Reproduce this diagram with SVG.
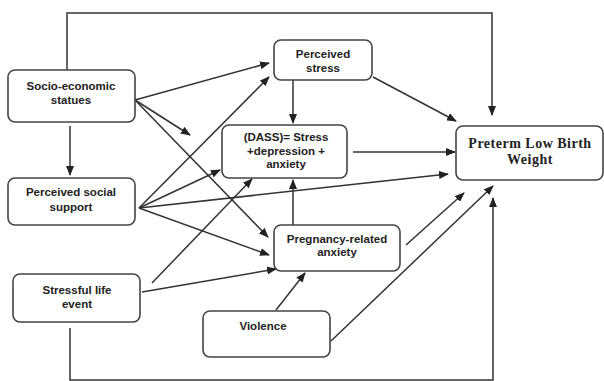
<svg xmlns="http://www.w3.org/2000/svg" width="604" height="381" viewBox="0 0 604 381">
<defs>
<marker id="ah" markerWidth="10" markerHeight="8" refX="9" refY="4" orient="auto" markerUnits="userSpaceOnUse">
<path d="M0,0 L10,4 L0,8 Z" fill="#222"/>
</marker>
<style>
.box{fill:#fff;stroke:#444;stroke-width:1.6}
.t{font-family:"Liberation Sans",Arial,sans-serif;font-size:11.5px;font-weight:bold;fill:#222;text-anchor:middle}
.ts{font-family:"Liberation Serif","Times New Roman",serif;font-size:14px;font-weight:bold;fill:#222;text-anchor:middle;letter-spacing:0.5px}
.c{fill:none;stroke:#333;stroke-width:1.5}
.a{marker-end:url(#ah)}
</style>
</defs>
<rect width="604" height="381" fill="#fff"/>
<g id="connectors">
<path class="c a" d="M67,70 V13 H492 V115"/>
<path class="c a" d="M135,100 L269,63"/>
<path class="c a" d="M135,100 L190,135"/>
<path class="c a" d="M135,100 L268,237"/>
<path class="c a" d="M70,126 V175"/>
<path class="c a" d="M139,208 L269,77"/>
<path class="c a" d="M139,208 L220,170"/>
<path class="c a" d="M139,208 L448,174"/>
<path class="c a" d="M139,208 L269,255"/>
<path class="c a" d="M152,283 L252,179"/>
<path class="c a" d="M142,292 L276,269"/>
<path class="c a" d="M276,310 L305,273"/>
<path class="c a" d="M331,341 L493,186"/>
<path class="c a" d="M406,245 L464,193"/>
<path class="c a" d="M293,226 V180"/>
<path class="c a" d="M293,80 V123"/>
<path class="c a" d="M353,152 H455"/>
<path class="c a" d="M373,77 L456,121"/>
<path class="c a" d="M70,328 V380 H493 V198"/>
</g>
<g id="socio">
<rect class="box" x="8" y="70" width="127" height="52" rx="7"/>
<text class="t" x="71" y="90">Socio-economic</text>
<text class="t" x="71" y="104">statues</text>
</g>
<g id="social-support">
<rect class="box" x="8" y="178" width="127" height="47" rx="7"/>
<text class="t" x="71" y="196">Perceived social</text>
<text class="t" x="71" y="211">support</text>
</g>
<g id="stressful-life">
<rect class="box" x="13" y="274" width="127" height="48" rx="7"/>
<text class="t" x="77" y="294">Stressful life</text>
<text class="t" x="77" y="308">event</text>
</g>
<g id="perceived-stress">
<rect class="box" x="274" y="40" width="98" height="40" rx="7"/>
<text class="t" x="323" y="58">Perceived</text>
<text class="t" x="323" y="72">stress</text>
</g>
<g id="dass">
<rect class="box" x="222" y="125" width="125" height="53" rx="7"/>
<text class="t" x="286" y="141">(DASS)= Stress</text>
<text class="t" x="286" y="155">+depression +</text>
<text class="t" x="286" y="168">anxiety</text>
</g>
<g id="pregnancy">
<rect class="box" x="274" y="225" width="126" height="46" rx="7"/>
<text class="t" x="337" y="243">Pregnancy-related</text>
<text class="t" x="337" y="256">anxiety</text>
</g>
<g id="violence">
<rect class="box" x="203" y="311" width="127" height="46" rx="7"/>
<text class="t" x="263" y="330">Violence</text>
</g>
<g id="preterm">
<rect class="box" x="456" y="126" width="147" height="54" rx="7"/>
<text class="ts" x="530" y="148">Preterm Low Birth</text>
<text class="ts" x="530" y="164">Weight</text>
</g>
</svg>
